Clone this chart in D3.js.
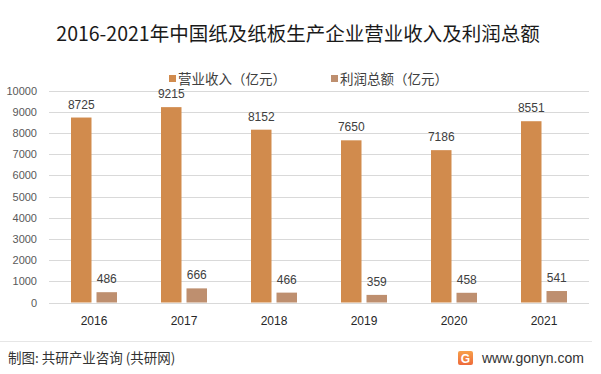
<!DOCTYPE html>
<html>
<head>
<meta charset="utf-8">
<script src="https://cdn.jsdelivr.net/npm/d3@7"></script>
<style>
  body { margin: 0; background: #fff; }
  svg { display: block; font-family: "Noto Sans CJK SC", "Noto Sans", sans-serif; }
</style>
</head>
<body>
<div id="chart"></div>
<script>
var years = ["2016", "2017", "2018", "2019", "2020", "2021"];
var revenue = [8725, 9215, 8152, 7650, 7186, 8551];
var profit = [486, 666, 466, 359, 458, 541];
var yTicks = [0, 1000, 2000, 3000, 4000, 5000, 6000, 7000, 8000, 9000, 10000];
var seriesNames = ["营业收入（亿元）", "利润总额（亿元）"];
var colors = ["#D18B4D", "#BE8F6F"];

function init() {
    var w = 601, h = 374;
    var left = 49, right = 589, top = 90.5, bottom = 302.5;

    var svg = d3.select("#chart").append("svg")
        .attr("width", w).attr("height", h);

    var xScale = d3.scaleBand().domain(years).range([left, right]);
    var yScale = d3.scaleLinear().domain([0, 10000]).range([bottom, top]);

    //gridlines
    svg.append("g").selectAll("line")
        .data(yTicks)
        .enter().append("line")
        .attr("x1", left).attr("x2", right)
        .attr("y1", function(d) { return Math.round(yScale(d)) + 0.5; })
        .attr("y2", function(d) { return Math.round(yScale(d)) + 0.5; })
        .attr("stroke", "#d9d9d9").attr("stroke-width", 1);

    //y axis labels
    var yAxis = d3.axisLeft(yScale).tickValues(yTicks)
        .tickFormat(d3.format("d")).tickSize(0).tickPadding(12);
    var gy = svg.append("g")
        .attr("transform", "translate(" + left + ",0)")
        .call(yAxis);
    gy.select(".domain").remove();
    gy.selectAll("text")
        .attr("font-size", 11).attr("fill", "#595959")
        .attr("font-family", "Liberation Sans, Arial, sans-serif");

    //x axis labels
    var xAxis = d3.axisBottom(xScale).tickSize(0).tickPadding(14);
    var gx = svg.append("g")
        .attr("transform", "translate(0," + bottom + ")")
        .call(xAxis);
    gx.select(".domain").remove();
    gx.selectAll("text")
        .attr("font-size", 12).attr("fill", "#262626")
        .attr("font-family", "Liberation Sans, Arial, sans-serif");

    var barW = 20.5, gap = 5;
    var series = [revenue, profit];

    series.forEach(function(vals, i) {
        var offset = xScale.bandwidth() / 2 - barW - gap / 2 + i * (barW + gap);
        var g = svg.append("g");
        g.selectAll("rect")
            .data(vals)
            .enter().append("rect")
            .attr("x", function(d, j) { return xScale(years[j]) + offset; })
            .attr("y", function(d) { return yScale(d); })
            .attr("width", barW)
            .attr("height", function(d) { return bottom - yScale(d); })
            .attr("fill", colors[i]);

        g.selectAll("text")
            .data(vals)
            .enter().append("text")
            .attr("x", function(d, j) { return xScale(years[j]) + offset + barW / 2; })
            .attr("y", function(d) { return yScale(d) - 9; })
            .attr("text-anchor", "middle")
            .attr("font-size", 12)
            .attr("font-family", "Liberation Sans, Arial, sans-serif")
            .attr("fill", "#404040")
            .text(function(d) { return d; });
    });

    //title
    svg.append("text")
        .attr("x", 298).attr("y", 41)
        .attr("text-anchor", "middle")
        .attr("font-size", 19.5)
        .attr("fill", "#1a1a1a")
        .text("2016-2021年中国纸及纸板生产企业营业收入及利润总额");

    //legend
    var legendX = [169, 331];
    seriesNames.forEach(function(name, i) {
        svg.append("rect")
            .attr("x", legendX[i]).attr("y", 75)
            .attr("width", 7).attr("height", 7)
            .attr("fill", colors[i]);
        svg.append("text")
            .attr("x", legendX[i] + 9).attr("y", 84)
            .attr("font-size", 13.5)
            .attr("fill", "#404040")
            .text(name);
    });

    //footer
    svg.append("line")
        .attr("x1", 0).attr("x2", 592)
        .attr("y1", 341.5).attr("y2", 341.5)
        .attr("stroke", "#e6e6e6");

    svg.append("text")
        .attr("x", 8).attr("y", 362.5)
        .attr("font-size", 13.5)
        .attr("fill", "#333")
        .text("制图: 共研产业咨询 (共研网)");

    var grad = svg.append("defs").append("linearGradient")
        .attr("id", "logoGrad").attr("x1", 0).attr("y1", 0).attr("x2", 0).attr("y2", 1);
    grad.append("stop").attr("offset", "0%").attr("stop-color", "#F7A04A");
    grad.append("stop").attr("offset", "100%").attr("stop-color", "#EE6A3A");

    svg.append("rect")
        .attr("x", 458).attr("y", 351).attr("width", 15).attr("height", 14)
        .attr("rx", 2).attr("fill", "url(#logoGrad)");
    svg.append("text")
        .attr("x", 465.5).attr("y", 362.5)
        .attr("text-anchor", "middle")
        .attr("font-size", 12).attr("font-weight", "bold")
        .attr("fill", "#fff")
        .attr("font-family", "Liberation Sans, Arial, sans-serif")
        .text("G");

    svg.append("text")
        .attr("x", 482).attr("y", 363)
        .attr("font-size", 14)
        .attr("fill", "#333")
        .attr("font-family", "Liberation Sans, Arial, sans-serif")
        .text("www.gonyn.com");
}
window.onload = init;
</script>
</body>
</html>
